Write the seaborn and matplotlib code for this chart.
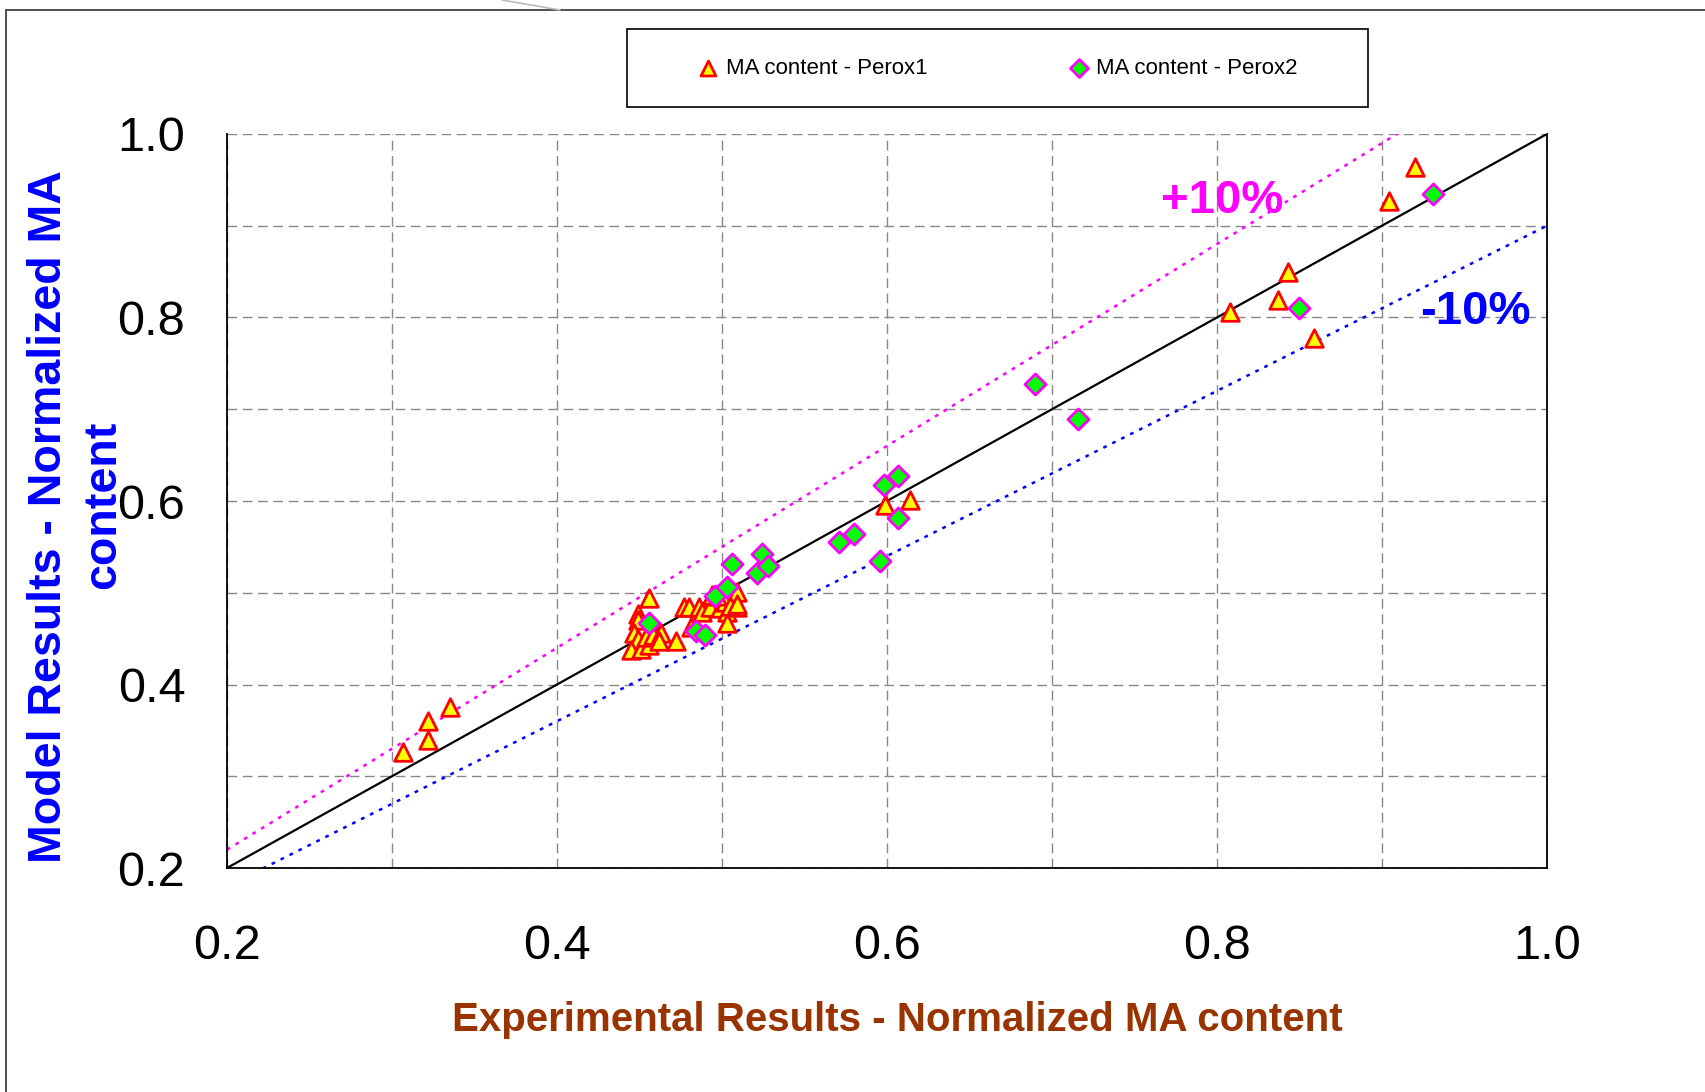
import numpy as np
import pandas as pd
import matplotlib
matplotlib.use("Agg")
import matplotlib.pyplot as plt
from matplotlib.patches import Rectangle
from matplotlib.lines import Line2D
import seaborn as sns

# Perox1 (triangles): experimental vs model, normalized MA content
perox1_exp = [0.307, 0.322, 0.322, 0.335,
              0.456, 0.449, 0.449, 0.447, 0.449, 0.445, 0.451, 0.456, 0.454,
              0.458, 0.463, 0.462, 0.472, 0.477, 0.480, 0.486, 0.488, 0.493,
              0.494, 0.499, 0.503, 0.509, 0.509, 0.502, 0.503, 0.481, 0.497,
              0.505, 0.509,
              0.599, 0.614, 0.808, 0.837, 0.843, 0.859, 0.904, 0.920]
perox1_mod = [0.326, 0.360, 0.340, 0.375,
              0.494, 0.477, 0.470, 0.456, 0.450, 0.438, 0.439, 0.443, 0.452,
              0.454, 0.456, 0.447, 0.447, 0.485, 0.485, 0.485, 0.479, 0.485,
              0.498, 0.483, 0.479, 0.485, 0.501, 0.490, 0.467, 0.463, 0.496,
              0.486, 0.488,
              0.596, 0.601, 0.806, 0.819, 0.850, 0.778, 0.927, 0.964]

# Perox2 (diamonds)
perox2_exp = [0.456, 0.484, 0.490, 0.496, 0.503, 0.506, 0.521, 0.524, 0.528,
              0.571, 0.580, 0.596, 0.598, 0.607, 0.607, 0.690, 0.716, 0.850,
              0.931]
perox2_mod = [0.467, 0.458, 0.454, 0.497, 0.506, 0.531, 0.522, 0.542, 0.529,
              0.555, 0.564, 0.535, 0.617, 0.627, 0.582, 0.728, 0.689, 0.810,
              0.935]

diag_x = [0.2, 1.0]
band_plus = 1.10
band_minus = 0.90

axis_ticks = [0.2, 0.4, 0.6, 0.8, 1.0]
tick_labels = ["0.2", "0.4", "0.6", "0.8", "1.0"]

df1 = pd.DataFrame({"exp": perox1_exp, "mod": perox1_mod})
df2 = pd.DataFrame({"exp": perox2_exp, "mod": perox2_mod})

sns.set_style("white")
plt.rcParams['font.family'] = ['Liberation Sans', 'DejaVu Sans']

fig = plt.figure(figsize=(17.05, 10.92), dpi=100)
ax = fig.add_axes([0.1331, 0.2051, 0.7742, 0.6722])

# reference lines
xs = np.array(diag_x)
ax.plot(xs, xs, color='black', lw=1.6, zorder=2)
ax.plot(xs, band_plus * xs, color='#FF00FF', lw=1.8, ls=(0, (1.5, 2.5)), zorder=2)
ax.plot(xs, band_minus * xs, color='#0000FF', lw=1.8, ls=(0, (1.5, 2.5)), zorder=2)

sns.scatterplot(data=df1, x='exp', y='mod', marker='^', s=160,
                color='#FFFF00', edgecolor='#FF0000', linewidth=2.0,
                label='MA content - Perox1', ax=ax, zorder=3)
sns.scatterplot(data=df2, x='exp', y='mod', marker='D', s=115,
                color='#00FF00', edgecolor='#FF00FF', linewidth=2.0,
                label='MA content - Perox2', ax=ax, zorder=4)

ax.set_xlim(0.2, 1.0)
ax.set_ylim(0.2, 1.0)
ax.set_xticks(axis_ticks)
ax.set_xticklabels(tick_labels)
ax.set_yticks(axis_ticks)
ax.set_yticklabels(tick_labels)
ax.set_xticks(np.arange(0.2, 1.01, 0.1), minor=True)
ax.set_yticks(np.arange(0.2, 1.01, 0.1), minor=True)
ax.grid(which='both', color='#888888', ls=(0, (7, 4)), lw=1.0, zorder=0)
ax.tick_params(which='both', length=0, labelcolor='black')
ax.tick_params(axis='x', labelsize=35, pad=40)
ax.tick_params(axis='y', labelsize=35, pad=30)
ax.set_xlabel("")
ax.set_ylabel("")

for side in ['left', 'bottom', 'right']:
    ax.spines[side].set_color('black')
    ax.spines[side].set_linewidth(1.3)
ax.spines['top'].set_visible(False)

ax.text(0.803, 0.927, "+10%", color='#FF00FF', fontsize=34, fontweight='bold',
        ha='center', va='center')
ax.text(0.9564, 0.806, "-10%", color='#0000FF', fontsize=34, fontweight='bold',
        ha='center', va='center')

fig.text(0.526, 0.066, "Experimental Results - Normalized MA content",
         color='#993300', fontsize=29, fontweight='bold', ha='center', va='center')
# y label drawn as two lines, as in the original slide
fig.text(0.0285, 0.527, "Model Results - Normalized MA",
         color='#0000FF', fontsize=33.5, fontweight='bold', ha='center', va='center',
         rotation=90)
fig.text(0.0606, 0.538, "content",
         color='#0000FF', fontsize=33.5, fontweight='bold', ha='center', va='center',
         rotation=90)

# legend with separate frame
leg = ax.legend(loc='center', bbox_to_anchor=(0.585, 0.9377),
                bbox_transform=fig.transFigure, ncol=2, frameon=False,
                fontsize=16, columnspacing=6.3, handletextpad=0.3,
                handlelength=1.0, markerscale=0.85)
for t in leg.get_texts():
    t.set_color('black')
fig.add_artist(Rectangle((627 / 1705, 1 - 107 / 1092), (1368 - 627) / 1705,
                         78 / 1092, transform=fig.transFigure,
                         fill=False, edgecolor='black', lw=1.2))

# outer slide frame
fig.add_artist(Line2D([6 / 1705, 6 / 1705], [0, 1 - 10 / 1092],
                      transform=fig.transFigure, color='#333333', lw=1.2))
fig.add_artist(Line2D([6 / 1705, 1], [1 - 10 / 1092, 1 - 10 / 1092],
                      transform=fig.transFigure, color='#333333', lw=1.2))
fig.add_artist(Line2D([502 / 1705, 560 / 1705], [1, 1 - 10 / 1092],
                      transform=fig.transFigure, color='#BBBBBB', lw=1.2))

fig.savefig("out.png", dpi=100)
